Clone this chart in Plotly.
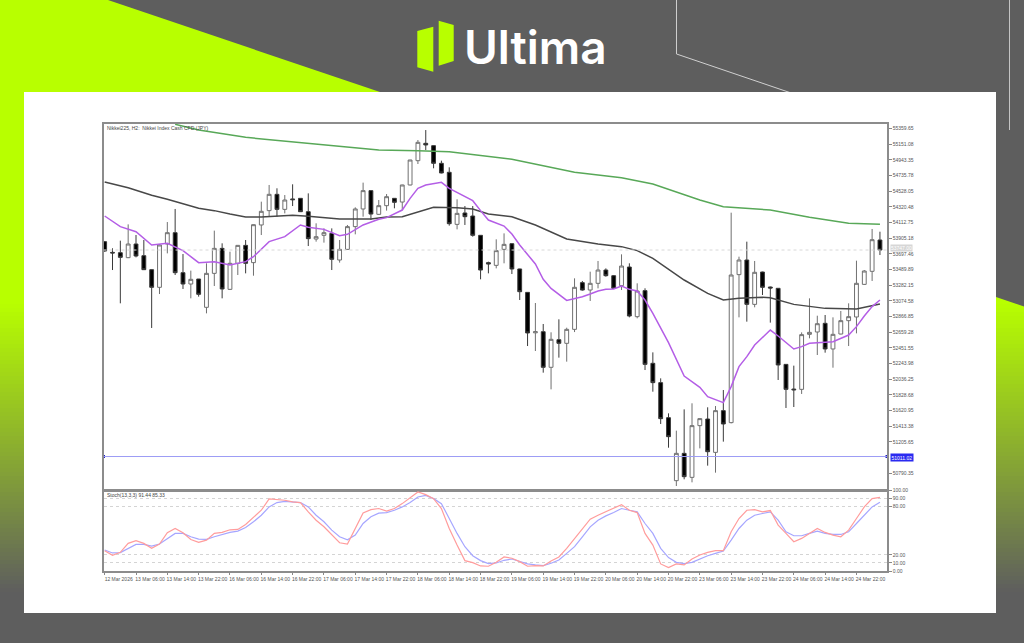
import plotly.graph_objects as go

INSTRUMENT = "Nikkei225, H2:  Nikkei Index Cash CFD (JPY)"
STOCH_LABEL = "Stoch(13,3,3) 91.44 85.33"
BRAND = "Ultima"

open_ = [53858,53716,53712,53646,53827,53672,53487,53253,53827,53977,53447,53297,53363,52988,53438,53769,53226,53571,53809,53580,
         54079,54269,54485,54286,54424,54432,54255,53893,53942,53968,53615,53756,54057,54291,54534,54220,54335,54432,54383,54609,
         54931,55161,55130,54896,54777,54087,54238,54198,53942,53580,53544,53756,53831,53496,53186,52650,52665,52193,52559,52511,
         52696,53315,53217,53306,53482,53407,53275,53522,52864,53209,52246,51990,51526,50691,51053,50735,51420,51508,51066,51619,
         51460,53421,53615,53027,53456,53257,53240,52232,51905,51901,52630,52661,52776,52436,52634,52811,52860,53292,53465,53880]
high_ = [53867,53770,53871,54087,53946,53880,53490,53827,54118,54291,53694,53474,53363,53571,54004,53836,53725,53812,53880,54086,
         54388,54609,54565,54476,54618,54435,54498,54101,54034,54034,53880,54079,54313,54640,54537,54410,54489,54435,54612,54942,
         55205,55337,55133,54931,54843,54419,54330,54330,53945,53593,53889,53968,53834,53499,53190,53045,52767,52657,52829,52718,
         53372,53337,53460,53602,53504,53416,53690,53571,53306,53240,52391,52047,51583,51354,51636,51716,51517,51663,51680,51892,
         54242,53659,53858,53602,53460,53262,53243,52235,52215,52656,53107,52877,52886,52855,52939,53041,53606,53482,54026,53990]
low_ =  [53725,53482,53041,53640,53650,53482,52714,53164,53703,53416,53231,53107,53129,52908,53270,53107,53217,53416,53438,53407,
         53946,54189,54189,54233,54330,54251,53800,53858,53845,53482,53580,53752,53955,54189,54145,54211,54269,54300,54277,54604,
         54887,55072,54830,54763,54070,54021,54079,53924,53359,53438,53504,53571,53429,53085,52475,52409,52122,51901,52321,52268,
         52660,53209,53072,53239,53394,53236,53217,52855,52842,52157,51870,51442,51128,50620,50709,50669,51119,50890,50797,51208,
         51450,52855,52798,52988,53151,52785,52025,51654,51667,51840,52577,52356,52387,52188,52630,52475,52643,53284,53337,53681]
close_ =[53734,53708,53650,53827,53668,53487,53253,53814,53977,53447,53297,53359,53160,53438,53769,53231,53571,53809,53571,54083,
         54260,54485,54286,54410,54414,54255,53898,53924,53977,53624,53756,54057,54291,54534,54224,54335,54454,54379,54609,54940,
         55174,55139,54896,54768,54096,54233,54189,53942,53482,53562,53739,53822,53496,53195,52648,52665,52193,52564,52511,52696,
         53253,53217,53306,53482,53407,53239,53535,52873,53204,52232,51990,51513,51274,51053,50744,51420,51513,51075,51619,51442,
         53416,53615,53027,53452,53253,53244,52224,51901,51895,52626,52656,52771,52436,52630,52811,52864,53306,53469,53884,53747]

purple_idx = [0,2,4,6,8,10,12,14,16,18,19,21,23,25,26,28,30,31,33,35,36,38,39,40,41,43,44,45,47,48,49,51,52,53,55,56,57,59,61,62,63,
              64,65,66,67,68,69,70,72,74,76,77,79,80,81,82,83,85,86,88,89,90,92,93,95,96,97,98,99]
purple_val = [54198,54057,53990,53814,53836,53739,53580,53593,53549,53593,53659,53858,53924,54079,54048,54021,53937,53955,54079,54154,
              54176,54277,54432,54565,54609,54644,54565,54507,54401,54269,54145,54065,53959,53814,53562,53359,53239,53080,53129,53164,53204,
              53226,53231,53270,53226,53204,53085,52908,52520,52078,51928,51804,51725,51937,52202,52334,52489,52687,52608,52436,52467,52511,
              52524,52533,52621,52732,52873,52997,53085]
dark_idx = [0,3,6,8,12,14,16,18,20,24,26,30,34,36,38,40,42,45,47,49,52,55,59,63,66,68,70,74,77,79,81,84,85,88,92,96,99]
dark_val = [54648,54573,54472,54419,54300,54269,54224,54185,54185,54207,54194,54158,54158,54185,54189,54255,54313,54308,54291,54224,
            54189,54079,53893,53827,53792,53739,53637,53350,53173,53085,53107,53120,53116,53027,52974,52966,53032]
green_idx = [9,12,18,25,30,35,40,44,52,60,66,70,76,79,85,90,95,99]
green_val = [55413,55338,55240,55170,55125,55072,55064,55050,54949,54777,54706,54622,54410,54322,54277,54180,54101,54088]

stoch_main = [25.2,19.5,23.2,34.3,37.6,34.3,28.1,33.5,47.5,52.8,47.5,39.2,35.5,38.4,46.7,47.9,51.2,51.6,57.8,67.3,
              75.5,89.5,88.7,87.9,85.8,85,73.4,63.1,54.9,44.6,35.1,33.5,52.8,72.2,76.3,77.6,74.3,77.6,83.7,90.7,
              98.2,94.9,89.9,77.6,52.8,32.2,12.9,10.4,6.3,5.9,10.8,
              17.4,15.8,11.6,5.9,6.7,6.3,12.5,17.4,28.1,40.5,52.8,64.4,69.3,73.4,77.6,82.5,75.5,72.6,46.7,32.2,8.8,4.2,8.8,7.5,
              14.9,19.9,23.2,25.2,25.2,48.7,65.2,75.5,76.3,73.4,75.1,57,46.7,36.4,40.5,46.7,52.8,47.9,44.6,42.5,50.8,65.2,79.6,89.9,91.44]
stoch_signal = [26.1,22.4,22.8,28.1,33,33,31,33.5,40.5,46.7,46.7,42.5,39.7,39.2,42.5,45.4,47.9,49.5,54.1,61.1,
                69.3,79.6,85,86.6,86.2,85,79.6,69.3,61.1,50.8,42.5,38.8,44.6,59,67.3,71.8,72.6,75.5,79.6,85,
                92,94,89.9,83.7,65.2,46.7,30.2,19,12.9,9.2,10,
                13.3,14.9,11.6,8.8,7.5,6.7,9.6,13.7,21.9,30.2,42.5,54.9,63.1,68.5,72.6,77.6,75.5,73.4,59,46.7,28.1,16.6,10.8,9.2,
                10.8,14.9,19,21.9,24.8,38.4,52.8,63.1,69.3,71.4,73.4,63.1,48.7,43.8,43.8,46.7,49.5,46.7,45.4,45.4,48.7,59,69.3,79.6,85.33]

price_ticks = [55359.65,55151.08,54943.35,54735.78,54528.05,54320.48,54112.75,53905.18,53697.46,53489.89,53282.15,53074.58,
               52866.85,52659.28,52451.55,52243.98,52036.25,51828.68,51620.95,51413.38,51205.65,50790.35]
stoch_ticks = [100,90,80,20,10,0]
time_labels = ["12 Mar 2026","13 Mar 06:00","13 Mar 14:00","13 Mar 22:00","16 Mar 06:00","16 Mar 14:00","16 Mar 22:00",
               "17 Mar 06:00","17 Mar 14:00","17 Mar 22:00","18 Mar 06:00","18 Mar 14:00","18 Mar 22:00","19 Mar 06:00",
               "19 Mar 14:00","19 Mar 22:00","20 Mar 06:00","20 Mar 14:00","20 Mar 22:00","23 Mar 06:00","23 Mar 14:00",
               "23 Mar 22:00","24 Mar 06:00","24 Mar 14:00","24 Mar 22:00"]
support_level = 51011.02

W, H = 1024, 643
LIME, GRAY = (184, 255, 0), (94, 94, 94)
FONT = "Liberation Sans"
TXT = "#555555"

def px(x): return x / W
def py(y): return 1 - y / H

def poly(points, color):
    path = "M" + " L".join(f"{px(a):.5f},{py(b):.5f}" for a, b in points) + " Z"
    return dict(type="path", xref="paper", yref="paper", path=path, fillcolor=color,
                line=dict(width=0), layer="below")

def pline(points, color, width):
    path = "M" + " L".join(f"{px(a):.5f},{py(b):.5f}" for a, b in points)
    return dict(type="path", xref="paper", yref="paper", path=path, line=dict(color=color, width=width), layer="below")

shapes = [poly([(0, 0), (108, 0), (380, 92), (0, 92)], "#b8ff00"),
          poly([(0, 92), (24, 92), (24, 305), (0, 305)], "#b8ff00")]
# vertical fade behind the card
step = 4
for y in range(296, 600, step):
    t = min(1, max(0, (y - 300) / 290))
    c = tuple(round(LIME[i] + (GRAY[i] - LIME[i]) * t) for i in range(3))
    shapes.append(poly([(0, y), (W, y), (W, y + step + .5), (0, y + step + .5)], f"rgb{c}"))
shapes += [
    poly([(990, 290), (W, 290), (W, 306.5), (996, 297)], "#5e5e5e"),
    pline([(676.5, 0), (676.5, 54), (800, 96)], "#d0d0d0", 1),
    pline([(1009.5, 0), (1009.5, 130)], "#c4c4c4", 1),
    poly([(24, 92), (996, 92), (996, 613), (24, 613)], "#ffffff"),
    poly([(417.3, 31), (433.3, 26.7), (433.3, 71.7), (417.3, 67.3)], "#b8ff00"),
    poly([(438.7, 20.7), (453.7, 25), (453.7, 61), (438.7, 65.7)], "#b8ff00"),
    dict(type="line", xref="x", yref="y", x0=-0.15, x1=99.9, y0=close_[-1], y1=close_[-1],
         line=dict(color="#d8d8d8", width=1, dash="dot"), layer="above"),
    dict(type="line", xref="x", yref="y", x0=-0.15, x1=99.9, y0=support_level, y1=support_level,
         line=dict(color="#9c9cf5", width=1), layer="above"),
]

x = list(range(len(open_)))
fig = go.Figure()
fig.add_trace(go.Candlestick(
    x=x, open=open_, high=high_, low=low_, close=close_, xaxis="x", yaxis="y", whiskerwidth=0,
    increasing=dict(line=dict(color="#707070", width=1), fillcolor="#ffffff"),
    decreasing=dict(line=dict(color="#3a3a3a", width=1), fillcolor="#000000"),
    showlegend=False, hoverinfo="skip"))
fig.add_trace(go.Scatter(x=green_idx, y=green_val, mode="lines", line=dict(color="#58a858", width=1.5), xaxis="x", yaxis="y", showlegend=False))
fig.add_trace(go.Scatter(x=dark_idx, y=dark_val, mode="lines", line=dict(color="#484848", width=1.5), xaxis="x", yaxis="y", showlegend=False))
fig.add_trace(go.Scatter(x=purple_idx, y=purple_val, mode="lines", line=dict(color="#b45ee6", width=1.5), xaxis="x", yaxis="y", showlegend=False))
fig.add_trace(go.Scatter(x=[-0.15, 99.9], y=[support_level, support_level], mode="markers",
                         marker=dict(color="#2020c0", size=3, symbol="square"), cliponaxis=False, xaxis="x", yaxis="y", showlegend=False))
fig.add_trace(go.Scatter(x=x, y=stoch_signal, mode="lines", line=dict(color="#a6a6ff", width=1.2), xaxis="x2", yaxis="y2", showlegend=False))
fig.add_trace(go.Scatter(x=x, y=stoch_main, mode="lines", line=dict(color="#ff9c9c", width=1.2), xaxis="x2", yaxis="y2", showlegend=False))

dom_x = [px(103.5), px(887)]
axis_line = dict(showline=True, linecolor="#8c8c8c", linewidth=1.5, mirror=True, automargin=False)
tick_font = dict(family=FONT, size=5, color=TXT)

fig.update_layout(
    width=W, height=H, margin=dict(l=0, r=0, t=0, b=0), autosize=False,
    paper_bgcolor="#5e5e5e", plot_bgcolor="rgba(0,0,0,0)", showlegend=False, hovermode=False,
    shapes=shapes,
    xaxis=dict(domain=dom_x, anchor="y", range=[-0.15, 99.9], rangeslider=dict(visible=False),
               showgrid=False, zeroline=False, showticklabels=False, ticks="", **axis_line),
    yaxis=dict(domain=[py(489.5), py(124)], anchor="x", side="right", range=[50574, 55417],
               tickvals=price_ticks, ticktext=[f"{v:.2f}" for v in price_ticks],
               ticks="outside", ticklen=3, tickcolor="#888888", tickfont=tick_font,
               showgrid=False, zeroline=False, **axis_line),
    xaxis2=dict(domain=dom_x, anchor="y2", range=[-0.15, 99.9],
                tickvals=list(range(0, 100, 4)), ticktext=time_labels, tickangle=0,
                ticks="outside", ticklen=2, tickcolor="#888888", tickfont=tick_font, ticklabelshift=14,
                showgrid=False, zeroline=False, **axis_line),
    yaxis2=dict(domain=[py(571), py(490.5)], anchor="x2", side="right", range=[0, 100],
                tickvals=stoch_ticks, ticktext=[f"{v:.2f}" for v in stoch_ticks],
                ticks="outside", ticklen=3, tickcolor="#888888", tickfont=tick_font,
                showgrid=True, gridcolor="#d4d4d4", griddash="dot", gridwidth=1, zeroline=False, **axis_line),
    annotations=[
        dict(text=INSTRUMENT, xref="paper", yref="paper", x=px(105), y=py(127.5), xanchor="left", yanchor="middle",
             showarrow=False, font=dict(family=FONT, size=5, color="#444444")),
        dict(text=STOCH_LABEL, xref="paper", yref="paper", x=px(105), y=py(494.5), xanchor="left", yanchor="middle",
             showarrow=False, font=dict(family=FONT, size=5, color="#444444")),
        dict(text=BRAND, xref="paper", yref="paper", x=px(462), y=py(47), xanchor="left", yanchor="middle",
             showarrow=False, font=dict(family="Inter", size=46, color="#ffffff", weight=600)),
        dict(text=f"{support_level:.2f}", xref="paper", yref="paper", x=px(890), y=py(457), xanchor="left", yanchor="middle",
             showarrow=False, bgcolor="#2a2af0", borderpad=0.5, font=dict(family=FONT, size=5, color="#ffffff")),
        dict(text=f"{close_[-1]:.2f}", xref="paper", yref="paper", x=px(890), y=py(247.5), xanchor="left", yanchor="middle",
             showarrow=False, bgcolor="#d6d6d6", borderpad=0, font=dict(family=FONT, size=5, color="#ffffff")),
    ],
)

fig.write_html("out.html", config={"displayModeBar": False},
               post_script="document.body.style.margin='0';document.body.style.overflow='hidden';")
